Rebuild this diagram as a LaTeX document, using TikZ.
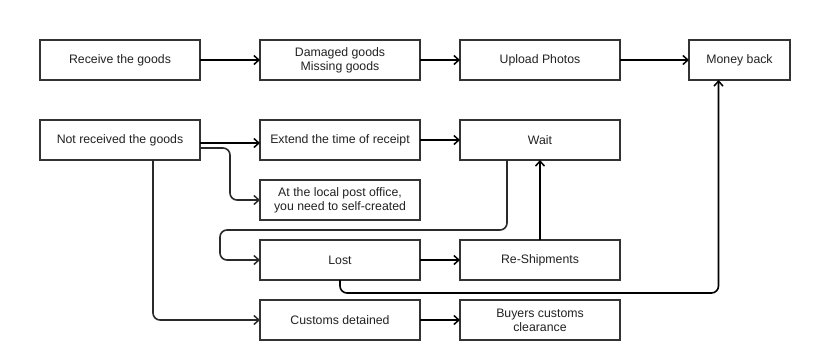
\documentclass[tikz,border=0pt]{standalone}
\usepackage{fontspec}
\setmainfont{Liberation Sans}
\usepackage{tikz}
\usetikzlibrary{arrows.meta,positioning,calc}
\definecolor{ink}{HTML}{222222}
\definecolor{edge}{HTML}{333333}
\definecolor{wire}{HTML}{2A2A2A}
\tikzset{
  box/.style={rectangle, draw=edge, fill=white, line width=1.5pt, align=center,
              minimum width=160pt, minimum height=40pt, inner sep=2pt, outer sep=0pt,
              text=ink, font=\fontsize{12.3}{13.8}\selectfont},
  smallbox/.style={box, minimum width=101pt},
  arr/.style={-{Straight Barb[length=5pt,width=9pt,line width=1.5pt]}, line width=1.6pt, draw=black},
  arrg/.style={arr, draw=wire, rounded corners=7pt},
}
\begin{document}
\begin{tikzpicture}[x=1pt,y=-1pt, node distance=40pt]
  \useasboundingbox (0,0) rectangle (816,360);
  % top row: goods received
  \node[box] (recv) at (120,60) {Receive the goods};
  \node[box, right=60pt of recv] (dmg) {Damaged goods\\Missing goods};
  \node[box, right=40pt of dmg] (upl) {Upload Photos};
  \node[smallbox] (money) at (739.5,60) {Money back};
  % goods not received
  \node[box] (notrcv) at (120,140) {Not received the goods};
  \node[box, right=60pt of notrcv] (extend) {Extend the time of receipt};
  \node[box, right=40pt of extend] (wait) {Wait};
  \node[box, below=20pt of extend] (post) {At the local post office,\\you need to self-created};
  \node[box, below=20pt of post] (lost) {Lost};
  \node[box, right=40pt of lost] (reship) {Re-Shipments};
  \node[box, below=20pt of lost] (customs) {Customs detained};
  \node[box, right=40pt of customs] (buyers) {Buyers customs\\clearance};
  \coordinate (bend) at (220,230);
  \draw[arr] (recv) -- (dmg);
  \draw[arr] (dmg) -- (upl);
  \draw[arr] (upl) -- (money);
  \draw[arr] ([yshift=-3pt]notrcv.east) -- ([yshift=-3pt]extend.west);
  \draw[arrg] ([yshift=-8pt]notrcv.east) -- ++(30,0) |- (post.west);
  \draw[arr] (extend) -- (wait);
  \draw[arrg] ([xshift=-33pt]wait.south) |- (bend) |- (lost.west);
  \draw[arr] (lost) -- (reship);
  \draw[arr] (reship) -- (wait);
  \draw[arrg, draw=black] (lost.south) -- ++(0,13) -| ([xshift=-21pt]money.south);
  \draw[arrg] ([xshift=33pt]notrcv.south) |- (customs.west);
  \draw[arr] (customs) -- (buyers);
\end{tikzpicture}
\end{document}
